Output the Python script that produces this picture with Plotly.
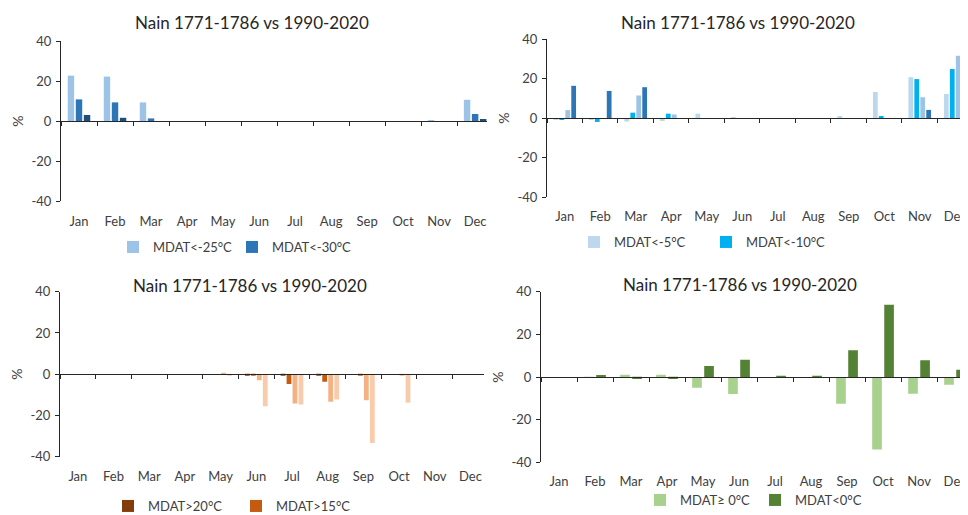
import plotly.graph_objects as go

months = ["Jan", "Feb", "Mar", "Apr", "May", "Jun", "Jul", "Aug", "Sep", "Oct", "Nov", "Dec"]
title_text = "Nain 1771-1786 vs 1990-2020"
y_ticks = [-40, -20, 0, 20, 40]
y_tick_text = ["-40", "-20", "0", "20", "40"]

# Panel 1 (top-left)
p1_lt25 = [22.7, 22.2, 9.3, 0, 0, 0, 0, 0, 0, 0, 0.5, 10.6]
p1_lt30 = [10.8, 9.3, 1.3, 0, 0, 0, 0, 0, 0, 0, 0, 3.5]
p1_lt35 = [3.0, 1.6, 0, 0, 0, 0, 0, 0, 0, 0, 0, 0.9]

# Panel 2 (top-right)
p2_lt5 = [-1.0, -1.0, -1.8, -1.5, 2.2, 0.3, 0, 0, 1.0, 13.2, 20.7, 12.2]
p2_lt10 = [-0.8, -2.0, 2.7, 2.2, 0, 0, 0, 0, 0, 1.0, 19.7, 24.8]
p2_lt15 = [4.0, 0, 11.4, 1.8, 0, 0, 0, 0, 0, 0, 10.5, 31.5]
p2_lt20 = [16.3, 13.7, 15.6, 0, 0, 0, 0, 0, 0, 0, 4.1, 23.9]

# Panel 3 (bottom-left)
p3_gt20 = [0, 0, 0, 0, 0, -0.3, -0.8, -0.3, 0, 0, 0, 0]
p3_gt15 = [0, 0, 0, 0, 0, -0.8, -4.8, -3.7, -0.8, 0, 0, 0]
p3_gt10 = [0, 0, 0, 0, 0.5, -2.9, -14.2, -13.4, -12.6, -0.3, 0, 0]
p3_gt5 = [0, 0, 0, 0, -0.5, -15.5, -14.7, -12.3, -33.3, -13.9, 0, 0]

# Panel 4 (bottom-right)
p4_ge0 = [0, -0.3, 1.1, 1.1, -5.0, -8.0, 0, 0, -12.5, -34.0, -7.8, -3.6]
p4_lt0 = [0, 0.9, -0.9, -0.9, 5.2, 8.1, 0.5, 0.5, 12.5, 33.9, 7.8, 3.4]

OFF = 8  # page body margin
W, H = 968 - OFF, 515 - OFF
FONT = "Lato, 'Open Sans', sans-serif"
TXT = "#404040"
LINE = "#262626"


def px(x):
    return (x - OFF) / W


def py(y):
    return 1 - (y - OFF) / H


fig = go.Figure()


def add(vals, name, color, ax, leg, show=True):
    fig.add_trace(go.Bar(
        x=months, y=vals, name=name, marker=dict(color=color, line=dict(width=0)),
        xaxis="x" + ("" if ax == 1 else str(ax)),
        yaxis="y" + ("" if ax == 1 else str(ax)),
        legend=leg, showlegend=show,
    ))


add(p1_lt25, "MDAT<-25°C", "#9DC3E6", 1, "legend")
add(p1_lt30, "MDAT<-30°C", "#2E75B6", 1, "legend")
add(p1_lt35, "MDAT<-35°C", "#1F4E79", 1, "legend", False)

add(p2_lt5, "MDAT<-5°C", "#BDD7EE", 2, "legend2")
add(p2_lt10, "MDAT<-10°C", "#00B0F0", 2, "legend2")
add(p2_lt15, "MDAT<-15°C", "#9DC3E6", 2, "legend2", False)
add(p2_lt20, "MDAT<-20°C", "#2E75B6", 2, "legend2", False)

add(p3_gt20, "MDAT>20°C", "#843C0C", 3, "legend3")
add(p3_gt15, "MDAT>15°C", "#C55A11", 3, "legend3")
add(p3_gt10, "MDAT>10°C", "#F4B183", 3, "legend3", False)
add(p3_gt5, "MDAT>5°C", "#F8CBAD", 3, "legend3", False)

add(p4_ge0, "MDAT≥ 0°C", "#A9D18E", 4, "legend4")
add(p4_lt0, "MDAT<0°C", "#548235", 4, "legend4")

# pixel layout of each panel: (x_left, x_right, y_top, y_bottom, x_range_end, label_standoff)
panels = {
    1: (61, 487, 41, 201, 11.33, 88),
    2: (547, 968, 39, 197, 11.36, 86),
    3: (60, 484, 291.7, 456.7, 11.38, 90),
    4: (541, 968, 291.7, 462.3, 11.36, 92),
}

layout = dict(
    width=W, height=H, margin=dict(l=0, r=0, t=0, b=0, autoexpand=False),
    paper_bgcolor="white", plot_bgcolor="white",
    barmode="group", bargap=0.33, bargroupgap=0.2,
    font=dict(family=FONT, size=13, color=TXT),
    annotations=[],
)

for i, (xl, xr, yt, yb, rend, so) in panels.items():
    sx = "" if i == 1 else str(i)
    ydom = [py(yb), py(yt)]
    layout["xaxis" + sx] = dict(
        domain=[px(xl), min(1.0, px(xr))], type="category", categoryorder="array", categoryarray=months,
        range=[-0.5, rend], anchor="free", position=(ydom[0] + ydom[1]) / 2,
        showline=True, linecolor=LINE, linewidth=1, ticks="outside", tickson="boundaries",
        ticklen=4, tickcolor=LINE, showgrid=False, zeroline=False,
        ticklabelstandoff=so, tickfont=dict(size=13, color=TXT), fixedrange=True,
    )
    layout["yaxis" + sx] = dict(
        domain=ydom, range=[-40, 40], anchor="x" + sx, tickvals=y_ticks, ticktext=y_tick_text,
        showline=True, linecolor=LINE, linewidth=1, ticks="outside", ticklen=4, tickcolor=LINE,
        showgrid=False, zeroline=False, tickfont=dict(size=13, color=TXT), ticklabelstandoff=2,
        title=dict(text="%", standoff=4, font=dict(size=14, color=TXT)), fixedrange=True,
    )

title_pos = [(252, 22), (738, 22), (250, 285), (740, 284)]
for (cx, cy) in title_pos:
    layout["annotations"].append(dict(
        text=title_text, x=px(cx), y=py(cy), xref="paper", yref="paper",
        xanchor="center", yanchor="middle", showarrow=False,
        font=dict(size=17, color="#262626", family=FONT),
    ))

# legends: (x of first text start, y center, entrywidth)
legend_pos = {
    "legend": (153, 247, 74),
    "legend2": (614, 242, 87),
    "legend3": (148, 506, 83),
    "legend4": (680, 500, 70),
}
for name, (tx, cy, ew) in legend_pos.items():
    layout[name] = dict(
        orientation="h", x=px(tx - 40), y=py(cy), xanchor="left", yanchor="middle",
        xref="paper", yref="paper", font=dict(size=13, color=TXT),
        bgcolor="rgba(0,0,0,0)", borderwidth=0, entrywidth=ew, entrywidthmode="pixels",
        traceorder="normal",
    )

fig.update_layout(**layout)
fig.write_html("out.html")
